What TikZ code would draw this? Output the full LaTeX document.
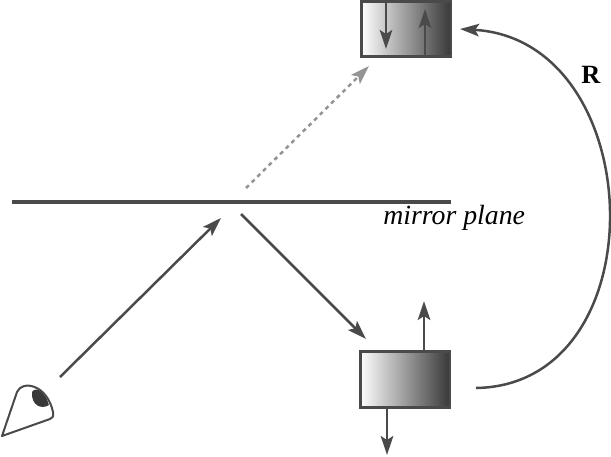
\documentclass[tikz,border=0pt]{standalone}
\usepackage{fontspec}
\setmainfont{Liberation Serif}
\usepackage{tikz}
\usetikzlibrary{arrows.meta}
\definecolor{linegray}{HTML}{4A4A4A}
\tikzstyle{spinbox} = [
    rectangle,
    minimum width=1.8cm,
    minimum height=1.12cm,
    draw=linegray,
    line width=0.06cm,
    left color=white,
    right color=black!78,
    inner sep=0pt
]
\tikzstyle{arrow} = [line width=0.05cm,draw=linegray,-{Stealth[length=0.38cm,width=0.25cm,inset=0.08cm]}]
\tikzstyle{ghost} = [arrow,draw=black!42,dash pattern=on 0.08cm off 0.08cm]
\tikzstyle{mirror} = [line width=0.09cm,draw=linegray]

\begin{document}
\begin{tikzpicture}[x=0.02cm,y=-0.02cm]
\useasboundingbox (0,0) rectangle (611,456);

\node (topbox) [spinbox] at (406,29) {};
\node (lowbox) [spinbox] at (405,379) {};

\coordinate (mirrorleft) at (12,202);
\coordinate (mirrorright) at (451,202);
\coordinate (eye) at (60,377);
\coordinate (hit) at (221,218);
\coordinate (bounce) at (241,214);
\coordinate (bounceend) at (366,339);
\coordinate (ghoststart) at (246,188);
\coordinate (ghostend) at (369,66);
\coordinate (topdownstart) at (386,0);
\coordinate (topdownend) at (386,49);
\coordinate (topupstart) at (425,56);
\coordinate (topupend) at (425,9);
\coordinate (lowupstart) at (424,351);
\coordinate (lowupend) at (424,301);
\coordinate (lowdownstart) at (387,407);
\coordinate (lowdownend) at (387,455);
\coordinate (rotstart) at (476,388);
\coordinate (rotend) at (460,29);

\node (planelabel) [anchor=base west,font=\itshape\fontsize{15.8}{15.8}\selectfont,inner sep=0pt] at (383,224) {mirror plane};
\node (rotlabel) [font=\bfseries\fontsize{15}{15}\selectfont,inner sep=0pt] at (591,75) {R};

\draw [mirror] (mirrorleft) -- (mirrorright);
\draw [arrow] (eye) -- (hit);
\draw [arrow] (bounce) -- (bounceend);
\draw [ghost] (ghoststart) -- (ghostend);
\draw [arrow] (topdownstart) -- (topdownend);
\draw [arrow] (topupstart) -- (topupend);
\draw [arrow] (lowupstart) -- (lowupend);
\draw [arrow] (lowdownstart) -- (lowdownend);
\draw [arrow] (rotstart) .. controls (660,385) and (650,40) .. (rotend);

% eye
\fill [black!78] (32,392) .. controls (36,386) and (45,391) .. (49,405) .. controls (41,410) and (31,405) .. cycle;
\draw [line width=0.04cm,draw=linegray,line join=round] (2,436) -- (17,392) .. controls (22,380) and (47,384) .. (53,412) .. controls (54,417) and (52,418) .. (50,419) -- cycle;

\end{tikzpicture}
\end{document}
